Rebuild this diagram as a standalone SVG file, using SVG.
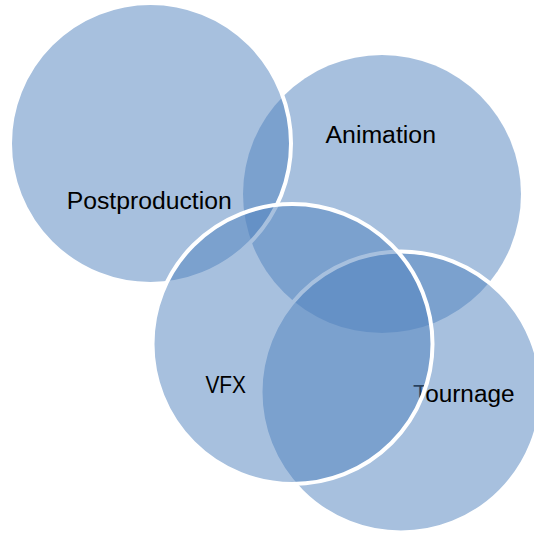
<svg xmlns="http://www.w3.org/2000/svg" width="534" height="536" viewBox="0 0 534 536">
<style>
.c{fill:#4f81bd;fill-opacity:0.5;}
.s{stroke:#ffffff;stroke-width:4;}
.t{font-family:"Liberation Sans",Arial,sans-serif;font-size:23.5px;fill:#000000;}
</style>
<rect width="534" height="536" fill="#ffffff"/>
<g id="animation">
<circle class="c" cx="382" cy="194" r="139"/>
<text class="t" x="325.5" y="143.3" textLength="110.5" lengthAdjust="spacingAndGlyphs">Animation</text>
</g>
<g id="postproduction">
<circle class="c s" cx="150.5" cy="143.5" r="140.5"/>
<text class="t" x="66.7" y="208.6" textLength="165" lengthAdjust="spacingAndGlyphs">Postproduction</text>
</g>
<g id="tournage">
<circle class="c s" cx="401" cy="392" r="140.5"/>
<text class="t" x="413" y="402" textLength="101.5" lengthAdjust="spacingAndGlyphs">Tournage</text>
</g>
<g id="vfx">
<circle class="c s" cx="292.5" cy="344" r="140"/>
<text class="t" x="205.4" y="392.5" textLength="40.6" lengthAdjust="spacingAndGlyphs">VFX</text>
</g>
<g id="connectors"/>
</svg>
